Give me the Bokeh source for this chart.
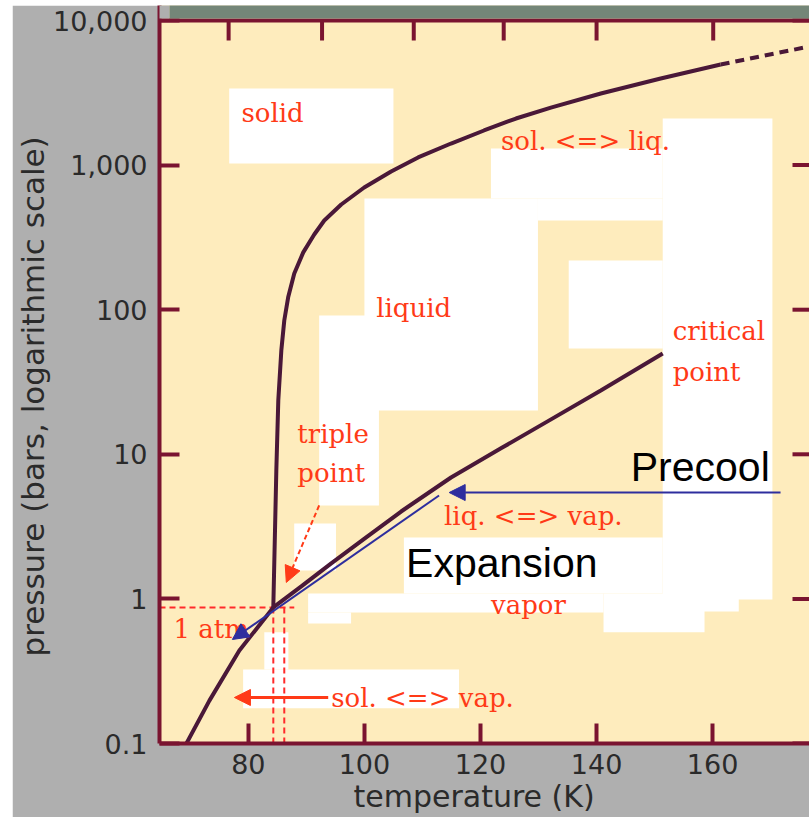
import math
from bokeh.plotting import figure
from bokeh.layouts import column, row
from bokeh.models import (FixedTicker, NumeralTickFormatter, Arrow, NormalHead, Range1d,
                          ColumnDataSource, Span, Spacer, Title)
from bokeh.core.properties import value
from bokeh.embed import file_html
from bokeh.resources import INLINE

# ---------------- data ----------------
# liquid <=> vapour and solid <=> vapour curve (T in K, p in bar)
vap_T = [69.33, 73.29, 78.45, 84.30, 89.12, 94.28, 100.30, 106.32, 114.92, 123.53, 131.78, 140.73, 151.40]
vap_p = [0.100, 0.198, 0.440, 0.873, 1.22, 1.76, 2.66, 4.02, 6.91, 11.0, 17.1, 27.6, 49.8]

# solid <=> liquid curve (solid part)
melt_T = [84.30, 84.82, 85.16, 85.68, 86.19, 86.88, 87.91, 89.46, 91.35, 93.08, 96.00, 99.96,
          104.60, 109.25, 114.92, 120.60, 126.11, 132.13, 140.73, 151.05, 161.38]
melt_p = [0.873, 7.73, 23.6, 52.2, 84.2, 123, 178, 249, 331, 414, 534, 700,
          903, 1130, 1410, 1735, 2100, 2500, 3126, 3970, 4965]
# dashed extrapolation
melt_ext_T = [161.38, 175.83]
melt_ext_p = [4965, 6505]

# "1 atm" guide lines
atm_p = 0.873
atm_line_T = [64.69, 87.91]
melt_line_T = 84.30
boil_line_T = 86.19

# axis ticks / ranges
x_min, x_max = 64.69, 176.69
y_min, y_top = 0.1, 10000          # drawn chart area
y_view_max = 12697                 # picture continues a little above the chart (strip)
x_ticks = [80, 100, 120, 140, 160]
y_ticks = [0.1, 1, 10, 100, 1000, 10000]
top_ticks = [76.6, 92.7, 108.5, 124.0, 140.0, 160.1]

# strip of the source picture above the chart
strip_T = [64.69, 66.41, 66.41, x_max]     # grey part, then green-grey part
strip_bottom = 10323

# white patches of the source picture (T left, T right, p top, p bottom)
white_left = [76.7, 121.8, 151.4, 100.0, 129.9, 135.2, 92.2, 87.9, 90.3, 106.8, 90.3, 141.2, 151.4, 79.1, 82.75]
white_right = [105.0, 151.4, 170.3, 129.9, 151.4, 151.4, 102.5, 95.1, 141.2, 151.4, 97.7, 158.6, 164.5, 116.3, 86.9]
white_top = [3388, 1302, 2100, 587, 587, 219, 91.2, 3.32, 1.09, 2.66, 0.806, 1.09, 1.09, 0.325, 0.587]
white_bottom = [1026, 587, 0.99, 20.1, 414, 53.9, 4.43, 1.57, 0.806, 1.09, 0.676, 0.587, 0.818, 0.175, 0.325]

# red annotation labels
lab_text = ["solid", "sol. <=> liq.", "liquid", "critical", "point", "triple", "point",
            "liq. <=> vap.", "vapor", "1 atm", "sol. <=> vap."]
lab_T = [78.80, 123.53, 102.02, 153.12, 153.12, 88.43, 88.43, 113.72, 121.81, 67.10, 94.28]
lab_p = [2275, 1479, 102, 71.8, 36.8, 13.9, 7.48, 3.72, 0.914, 0.624, 0.208]

# black process labels
proc_text = ["Precool", "Expansion"]
proc_T = [145.89, 107.18]
proc_p = [8.11, 1.76]

# blue process arrows
blue_T0 = [171.7, 112.86]
blue_p0 = [5.44, 5.19]
blue_T1 = [114.6, 77.25]
blue_p1 = [5.44, 0.524]

# red pointer arrows (triple point, sol <=> vap)
red_T0 = [92.2]
red_p0 = [4.43]
red_T1 = [86.54]
red_p1 = [1.30]
red2_T0 = [93.76]
red2_p0 = [0.208]
red2_T1 = [77.6]
red2_p1 = [0.208]

# ---------------- styling ----------------
CREAM = "#feecbd"
GRAY = "#afafaf"
STRIP = "#748678"
FRAME = "#7a1430"
CURVE = "#4a1838"
RED = "#ff3a17"
DASHRED = "#ff2a2a"
BLUE = "#2e2e9e"
INK = "#2a2a2a"

p = figure(width=797, height=812,
           x_range=Range1d(x_min, x_max), y_range=Range1d(y_min, y_view_max),
           y_axis_type="log", output_backend="svg", toolbar_location=None,
           min_border_left=146, min_border_right=0, min_border_top=0, min_border_bottom=74,
           background_fill_color=CREAM, border_fill_color=GRAY, outline_line_color=None,
           margin=0)
p.grid.visible = False

def style_axis(ax):
    ax.axis_line_color = FRAME
    ax.axis_line_width = 4
    ax.major_tick_line_color = FRAME
    ax.major_tick_line_width = 4
    ax.major_tick_in = 20
    ax.major_tick_out = 0
    ax.minor_tick_line_color = None
    ax.major_label_text_font = "DejaVu Sans"
    ax.major_label_text_font_size = "27px"
    ax.major_label_text_color = INK

xa = p.xaxis[0]
xa.ticker = FixedTicker(ticks=x_ticks)
style_axis(xa)
xa.major_label_standoff = 10

ya = p.yaxis[0]
ya.ticker = FixedTicker(ticks=y_ticks)
ya.formatter = NumeralTickFormatter(format="0,0.[0]")
style_axis(ya)
ya.major_label_standoff = 12

p.add_layout(Title(text="temperature (K)", align="left", offset=194, standoff=0,
                   text_font="DejaVu Sans", text_font_size="30px", text_font_style="normal",
                   text_color=INK), "below")
p.add_layout(Title(text="pressure (bars, logarithmic scale)", align="left", offset=87, standoff=0,
                   text_font="DejaVu Sans", text_font_size="31px", text_font_style="normal",
                   text_color=INK), "left")

# white patches
p.quad(left=white_left, right=white_right, top=white_top, bottom=white_bottom,
       fill_color="white", line_color=None)

# strip above the chart (covers the axis line there)
p.quad(left=strip_T[0:3:2], right=strip_T[1:4:2], top=[y_view_max, y_view_max],
       bottom=[strip_bottom, strip_bottom], fill_color=[GRAY, STRIP], line_color=None,
       level="overlay")

# top frame line and inward ticks on top / right
p.add_layout(Span(location=y_top, dimension="width", line_color=FRAME, line_width=4))
p.ray(x=top_ticks, y=[y_top] * len(top_ticks), length=20, length_units="screen",
      angle=-math.pi / 2, line_color=FRAME, line_width=4)
p.ray(x=[x_max] * len(y_ticks), y=y_ticks, length=17, length_units="screen",
      angle=math.pi, line_color=FRAME, line_width=4)

# 1 atm dashed guides
p.line(atm_line_T, [atm_p, atm_p], line_color=DASHRED, line_width=2, line_dash="6 4")
p.line([melt_line_T, melt_line_T], [atm_p, y_min], line_color=DASHRED, line_width=2, line_dash="6 4")
p.line([boil_line_T, boil_line_T], [atm_p, y_min], line_color=DASHRED, line_width=2, line_dash="6 4")

# phase boundaries
p.line(vap_T, vap_p, line_color=CURVE, line_width=4)
p.line(melt_T, melt_p, line_color=CURVE, line_width=4)
p.line(melt_ext_T, melt_ext_p, line_color=CURVE, line_width=4, line_dash="9 6")

# labels
p.text(x=lab_T, y=lab_p, text=lab_text, text_font=value("DejaVu Serif"), text_font_size="26px",
       text_color=RED, text_align="left", text_baseline="middle")
p.text(x=proc_T, y=proc_p, text=proc_text, text_font=value("Liberation Sans"), text_font_size="41px",
       text_color="black", text_align="left", text_baseline="middle")

# arrows
bsrc = ColumnDataSource(dict(x0=blue_T0, y0=blue_p0, x1=blue_T1, y1=blue_p1))
p.add_layout(Arrow(source=bsrc, x_start="x0", y_start="y0", x_end="x1", y_end="y1",
                   line_color=BLUE, line_width=2,
                   end=NormalHead(size=16, fill_color=BLUE, line_color=BLUE)))
rsrc = ColumnDataSource(dict(x0=red_T0, y0=red_p0, x1=red_T1, y1=red_p1))
p.add_layout(Arrow(source=rsrc, x_start="x0", y_start="y0", x_end="x1", y_end="y1",
                   line_color=RED, line_width=2, line_dash="5 3",
                   end=NormalHead(size=16, fill_color=RED, line_color=RED)))
r2src = ColumnDataSource(dict(x0=red2_T0, y0=red2_p0, x1=red2_T1, y1=red2_p1))
p.add_layout(Arrow(source=r2src, x_start="x0", y_start="y0", x_end="x1", y_end="y1",
                   line_color=RED, line_width=3,
                   end=NormalHead(size=16, fill_color=RED, line_color=RED)))

# white edge of the screenshot at top / left
page = column(Spacer(height=5, width=809, margin=0),
              row(Spacer(width=12, height=812, margin=0), p, spacing=0, margin=0),
              spacing=0, margin=0)

open("out.html", "w").write(file_html(page, INLINE))
